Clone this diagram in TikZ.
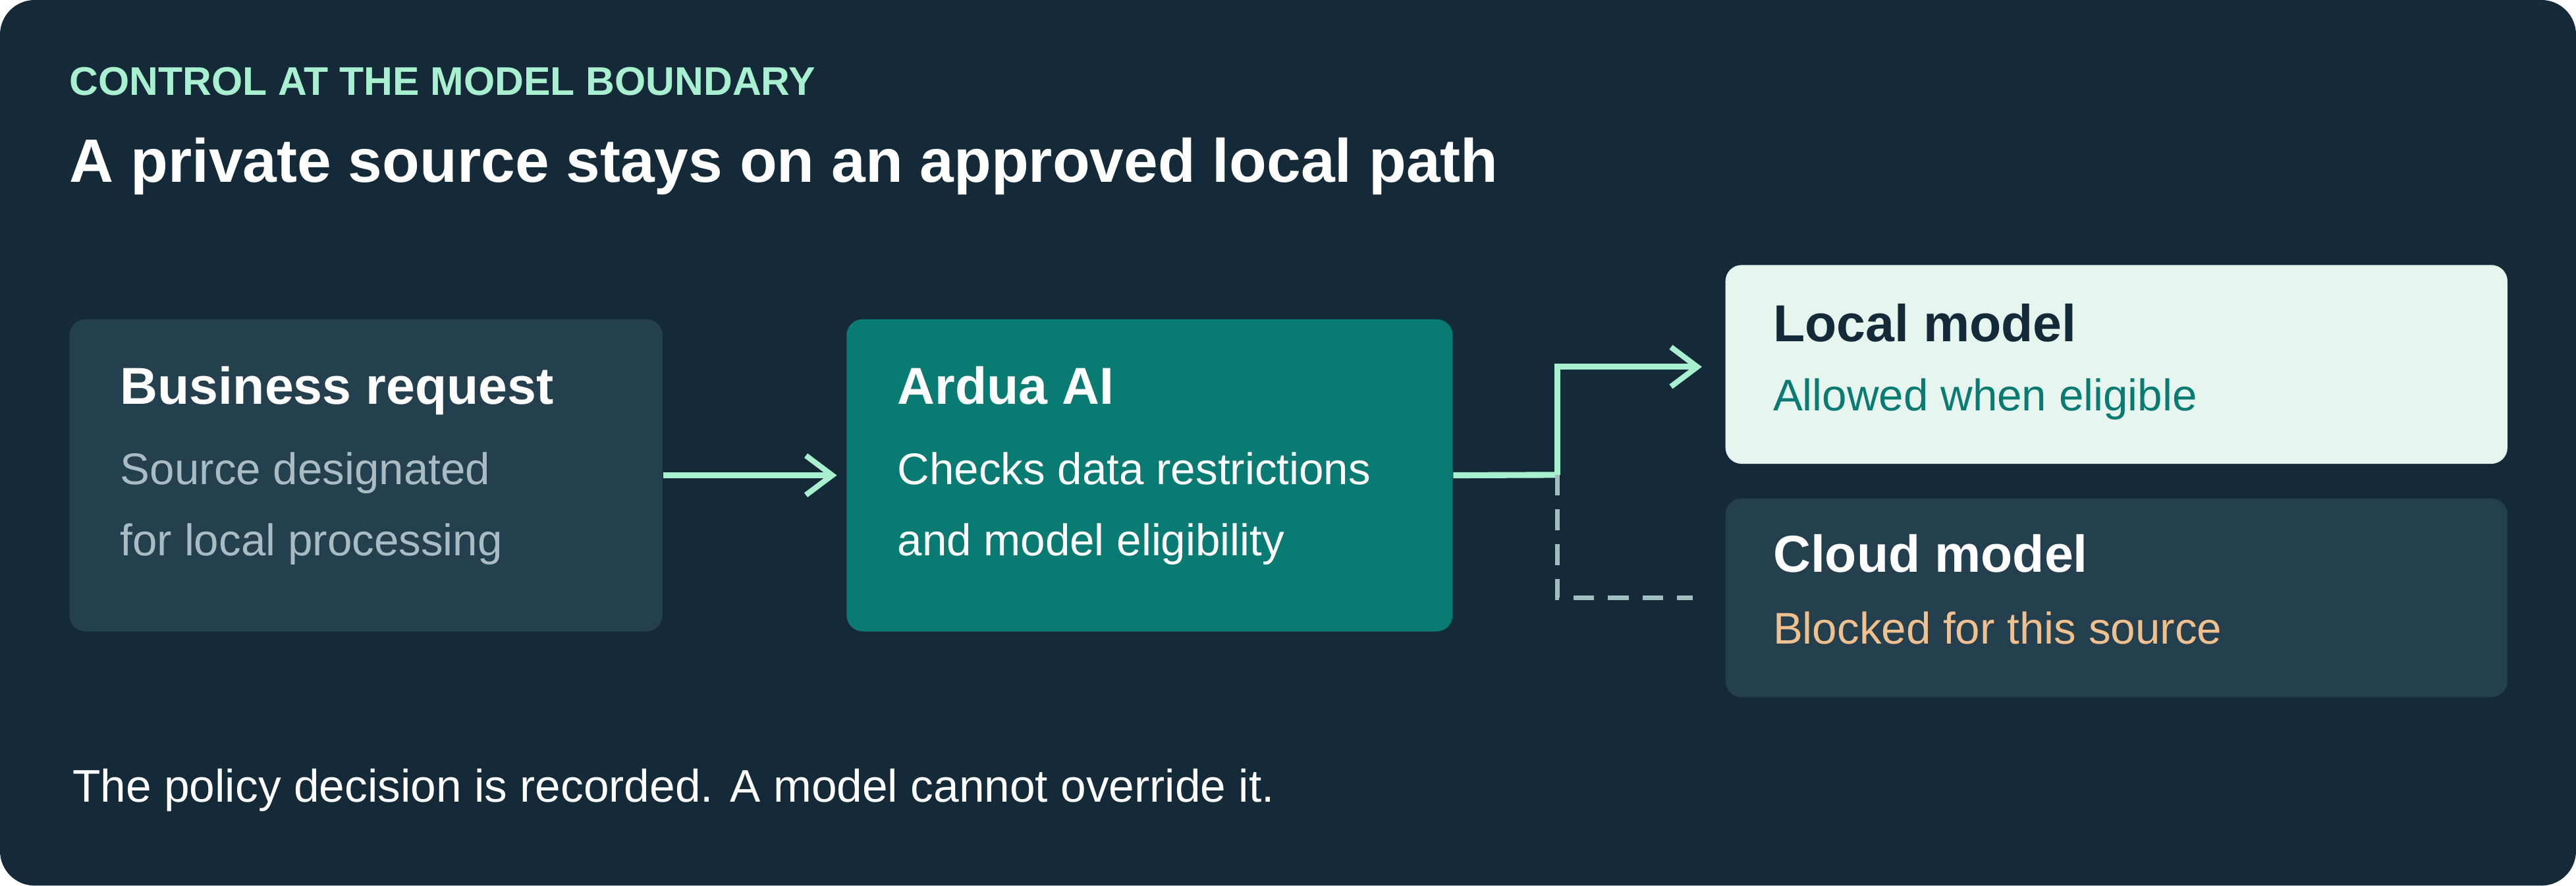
\documentclass[tikz,border=0pt]{standalone}
\usepackage{fontspec}
\setmainfont{Liberation Sans}
\usetikzlibrary{positioning, arrows.meta}
\definecolor{panelbg}{RGB}{21,42,56}
\definecolor{boxdark}{RGB}{36,63,77}
\definecolor{boxteal}{RGB}{10,123,114}
\definecolor{boxlight}{RGB}{230,245,238}
\definecolor{mint}{RGB}{168,240,208}
\definecolor{greytext}{RGB}{169,188,196}
\definecolor{blocked}{RGB}{240,192,142}
\definecolor{dashcol}{RGB}{160,190,190}
\tikzset{
  card/.style={anchor=north west, rounded corners=7pt, inner sep=0pt},
  head/.style={anchor=base west, inner sep=0pt, font=\fontsize{22.5}{26}\selectfont\bfseries},
  body/.style={anchor=base west, inner sep=0pt, font=\fontsize{19.2}{23}\selectfont},
  flow/.style={mint, line width=2.6pt, -{Straight Barb[length=4mm, width=6mm, line width=2.4pt]}},
}
\begin{document}
\begin{tikzpicture}[x=0.025cm, y=-0.025cm]
    \useasboundingbox (0,0) rectangle (1568,539);
    \fill[panelbg, rounded corners=15pt] (0,0) rectangle (1568,539);

    % headings
    \node[anchor=base west, inner sep=0pt, mint, font=\fontsize{17.3}{20}\selectfont\bfseries] (kicker) at (42,58) {CONTROL AT THE MODEL BOUNDARY};
    \node[anchor=base west, inner sep=0pt, white, font=\fontsize{26.5}{30}\selectfont\bfseries] (title) at (42,111) {A private source stays on an approved local path};

    % cards
    \node[card, fill=boxdark, minimum width=361*0.025cm, minimum height=190*0.025cm] (req) at (42,194) {};
    \node[head, white] (reqh) at (73,246) {Business request};
    \node[body, greytext] (reqb1) at (73,295) {Source designated};
    \node[body, greytext] (reqb2) at (73,338) {for local processing};

    \node[card, fill=boxteal, minimum width=369*0.025cm, minimum height=190*0.025cm] (ardua) at (515,194) {};
    \node[head, white] (arduah) at (546,246) {Ardua AI};
    \node[body, white] (ardub1) at (546,295) {Checks data restrictions};
    \node[body, white] (ardub2) at (546,338) {and model eligibility};

    \node[card, fill=boxlight, minimum width=476*0.025cm, minimum height=121*0.025cm] (local) at (1050,161) {};
    \node[head, panelbg] (localh) at (1079,208) {Local model};
    \node[body, boxteal] (localb) at (1079,250) {Allowed when eligible};

    \node[card, fill=boxdark, minimum width=476*0.025cm, minimum height=121*0.025cm] (cloud) at (1050,303) {};
    \node[head, white] (cloudh) at (1079,348) {Cloud model};
    \node[body, blocked] (cloudb) at (1079,392) {Blocked for this source};

    % connectors
    \coordinate (fork) at (948,289);
    \draw[flow, shorten >=4pt] (req.east) -- (ardua.west);
    \draw[mint, line width=2.6pt] (ardua.east) -- (fork);
    \draw[flow, shorten >=10pt] (fork) |- ([yshift=-1.5*0.025cm]local.west);
    \draw[dashcol, line width=2.2pt, dash pattern=on 9pt off 6pt, shorten >=14pt] (fork) |- (cloud.west);

    % footer
    \node[anchor=base west, inner sep=0pt, white, font=\fontsize{19.8}{24}\selectfont] (note) at (44,488) {The policy decision is recorded. A model cannot override it.};
\end{tikzpicture}
\end{document}
